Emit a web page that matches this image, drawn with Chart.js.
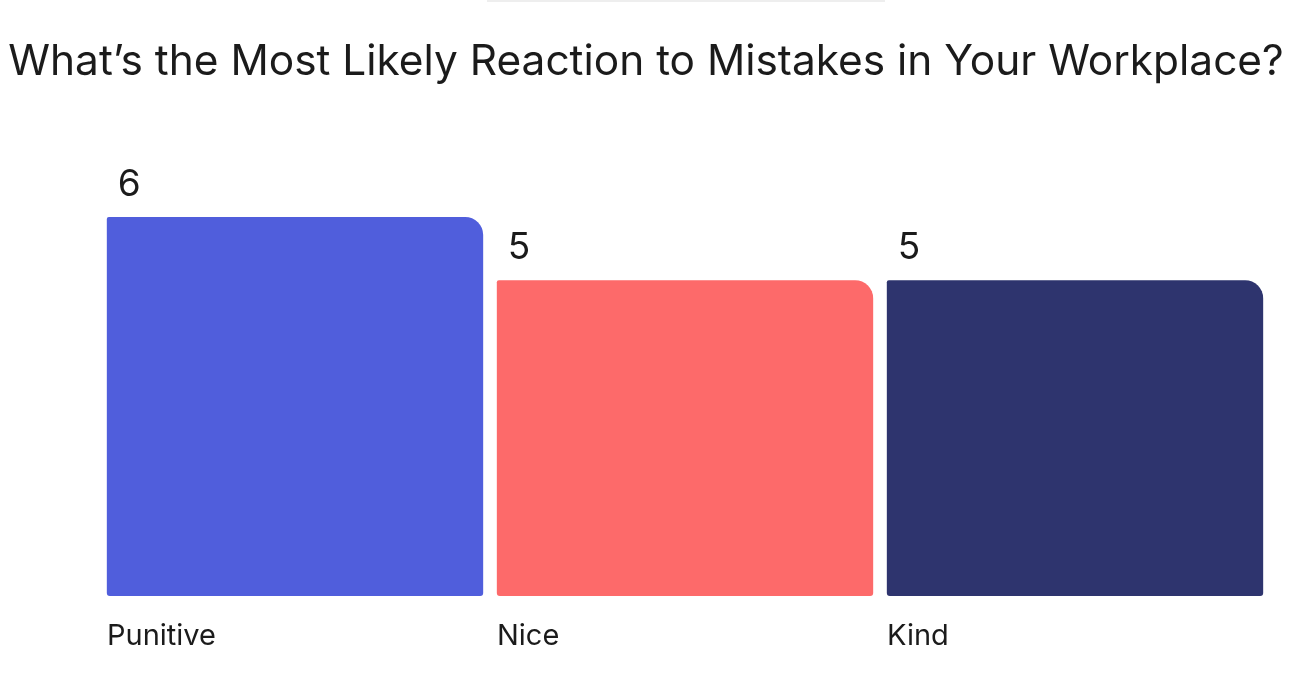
<!DOCTYPE html>
<html>
<head>
<meta charset="utf-8">
<script src="https://cdn.jsdelivr.net/npm/chart.js@4.4.1/dist/chart.umd.min.js"></script>
<style>
  html, body { margin: 0; padding: 0; background: #fff; }
  #wrap { position: relative; width: 1308px; height: 696px; }
  #topbar { position: absolute; left: 487px; top: 0; width: 398px; height: 2px; background: #eeeeee; }
  #title {
    position: absolute; left: 0; top: 34px; width: 1292px;
    text-align: center; font-family: Inter, sans-serif; font-size: 42.4px;
    line-height: 52px; color: #1b1b1b; white-space: nowrap;
  }
  canvas { position: absolute; left: 0; top: 0; }
</style>
</head>
<body>
<div id="wrap">
  <div id="topbar"></div>
  <canvas id="reactionChart" width="1308" height="696"></canvas>
  <div id="title">What’s the Most Likely Reaction to Mistakes in Your Workplace?</div>
</div>
<script>
const categories = ['Punitive', 'Nice', 'Kind'];
const responses = [6, 5, 5];
const barColors = ['#505EDC', '#FD6A6A', '#2E346E'];

// value above each bar, left aligned with the bar
const valueLabels = {
    id: 'valueLabels',
    afterDatasetsDraw(chart) {
        const ctx = chart.ctx;
        const meta = chart.getDatasetMeta(0);
        ctx.save();
        ctx.font = '37px Inter';
        ctx.fillStyle = '#1b1b1b';
        ctx.textAlign = 'left';
        ctx.textBaseline = 'middle';
        meta.data.forEach((bar, i) => {
            const left = bar.x - bar.width / 2;
            ctx.fillText(String(responses[i]), left + 11, bar.y - 32);
        });
        ctx.restore();
    }
};

const ctx = document.getElementById('reactionChart').getContext('2d');
new Chart(ctx, {
    type: 'bar',
    data: {
        labels: categories,
        datasets: [{
            data: responses,
            backgroundColor: barColors,
            borderWidth: 0,
            borderSkipped: false,
            borderRadius: { topLeft: 2, topRight: 18, bottomLeft: 3, bottomRight: 3 },
            categoryPercentage: 1,
            barPercentage: 0.965
        }]
    },
    options: {
        responsive: false,
        animation: false,
        layout: {
            padding: { left: 100, right: 38, top: 217, bottom: 24 }
        },
        plugins: {
            legend: { display: false },
            tooltip: { enabled: false },
            title: { display: false }
        },
        scales: {
            x: {
                grid: { display: false, drawTicks: false },
                border: { display: false },
                afterFit(scale) { scale.height = 76; },
                ticks: {
                    align: 'start',
                    labelOffset: -188,
                    padding: 23,
                    color: '#1b1b1b',
                    font: { family: 'Inter', size: 29 }
                }
            },
            y: {
                display: false,
                min: 0,
                max: 6
            }
        }
    },
    plugins: [valueLabels]
});
</script>
</body>
</html>
